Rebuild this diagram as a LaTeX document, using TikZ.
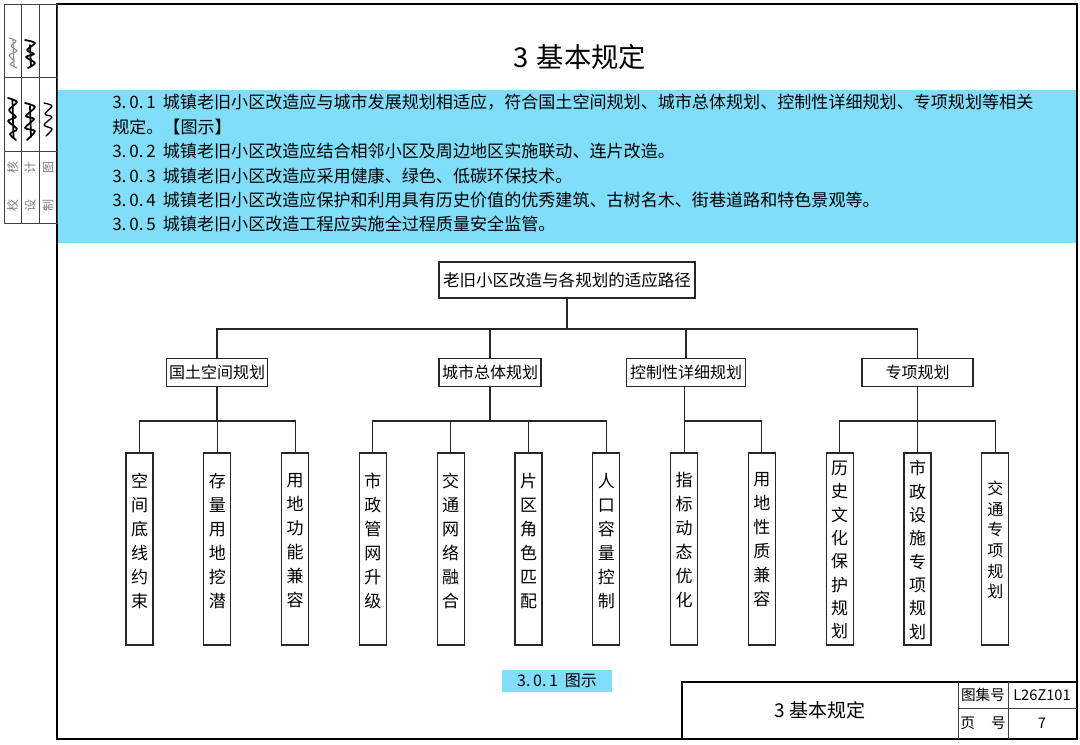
\documentclass[tikz,border=0pt]{standalone}
\usepackage{fontspec}
\setmainfont{Noto Sans CJK SC}
\definecolor{bandblue}{RGB}{128,222,250}
\newcommand\clno[1]{\makebox[38pt][l]{#1}}
\begin{document}
\begin{tikzpicture}[x=0.75pt,y=-0.75pt,
  frameline/.style={line width=1.8pt},
  thinline/.style={line width=0.6pt, draw=black!75},
  conn/.style={line width=0.85pt, draw=black!85},
  rootbox/.style={draw=black!85, line width=0.85pt, minimum width=192pt, minimum height=27pt, inner sep=0pt, font=\fontsize{12.4pt}{15pt}\selectfont},
  planbox/.style={draw=black!85, line width=0.85pt, minimum height=20.5pt, inner sep=0pt, font=\fontsize{12pt}{14pt}\selectfont},
  leafbox/.style={draw=black!85, line width=0.85pt, minimum width=20.25pt, minimum height=144pt, inner sep=0pt},
  leaftext/.style={align=center, inner sep=0pt, font=\fontsize{12.75pt}{18pt}\selectfont},
  bodytext/.style={anchor=west, inner sep=0pt, font=\fontsize{12.8pt}{16pt}\selectfont},
  striptext/.style={rotate=90, inner sep=0pt, text=black!50, font=\fontsize{9pt}{10pt}\selectfont},
  sig/.style={line width=1.3pt, line cap=round, line join=round},
]
\useasboundingbox (0,0) rectangle (1080,744);
\fill[white] (0,0) rectangle (1080,744);

% blue band
\fill[bandblue] (58,90) rectangle (1076,243);

% page frame
\draw[frameline] (57,4) rectangle (1077,739);

% left strip
\draw[thinline] (4,4) rectangle (57,223);
\draw[thinline] (21,4) -- (21,223);
\draw[thinline] (39,4) -- (39,223);
\draw[thinline] (4,77) -- (57,77);
\draw[thinline] (4,151) -- (57,151);
\node[striptext] (s1) at (12.5,186.5) {校\hspace{19pt}核};
\node[striptext] (s2) at (30,186.5) {设\hspace{19pt}计};
\node[striptext] (s3) at (48,186.5) {制\hspace{19pt}图};
% signatures
\draw[sig, line width=0.8pt, black!45] plot[smooth] coordinates {(9,38) (16,41) (11,46) (17,51) (9,55) (14,61) (10,64) (17,68)};
\draw[sig, line width=0.8pt, black!45] (13,40) -- (14,66);
\draw[sig] plot[smooth] coordinates {(25,40) (35,43) (27,50) (34,54) (26,57) (35,63) (28,68)};
\draw[sig] (30,45) -- (31,66);
\draw[sig] plot[smooth] coordinates {(8,98) (17,102) (9,110) (16,117) (8,121) (17,129) (10,134) (16,140)};
\draw[sig] (12.5,100) -- (13.5,138);
\draw[sig] plot[smooth] coordinates {(25,103) (35,107) (26,116) (34,119) (25,128) (35,131) (27,140)};
\draw[sig] (30,106) -- (31,137);
\draw[sig, line width=1pt] plot[smooth] coordinates {(44,103) (52,106) (45,114) (52,117) (44,125) (52,129) (46,136)};

% title
\node[inner sep=0pt, font=\fontsize{20.5pt}{24pt}\selectfont] (title) at (580,57) {3\hspace{6pt}基本规定};

% body text
\node[bodytext] (t1) at (112,102) {\clno{3.\,0.\,1}城镇老旧小区改造应与城市发展规划相适应，符合国土空间规划、城市总体规划、控制性详细规划、专项规划等相关};
\node[bodytext] (t2) at (112,127) {规定。【图示】};
\node[bodytext] (t3) at (112,151.5) {\clno{3.\,0.\,2}城镇老旧小区改造应结合相邻小区及周边地区实施联动、连片改造。};
\node[bodytext] (t4) at (112,176) {\clno{3.\,0.\,3}城镇老旧小区改造应采用健康、绿色、低碳环保技术。};
\node[bodytext] (t5) at (112,200) {\clno{3.\,0.\,4}城镇老旧小区改造应保护和利用具有历史价值的优秀建筑、古树名木、街巷道路和特色景观等。};
\node[bodytext] (t6) at (112,224) {\clno{3.\,0.\,5}城镇老旧小区改造工程应实施全过程质量安全监管。};

% tree
\node[rootbox] (root) at (567,280) {老旧小区改造与各规划的适应路径};
\node[planbox, minimum width=75.75pt] (p1) at (217,372.5) {国土空间规划};
\node[planbox, minimum width=76.5pt] (p2) at (490,372.5) {城市总体规划};
\node[planbox, minimum width=89.25pt] (p3) at (686,372.5) {控制性详细规划};
\node[planbox, minimum width=83.25pt] (p4) at (917.5,372.5) {专项规划};

\foreach \i/\x in {1/139.5,2/217.3,3/295.1,4/372.9,5/450.7,6/528.5,7/606.3,8/684.1,9/761.9,10/839.7,11/917.5,12/995.3}{
  \node[leafbox] (l\i) at (\x,549) {};
}

\node[leaftext] (lt1) at (139.5,541) {空\\间\\底\\线\\约\\束};
\node[leaftext] (lt2) at (217.3,541) {存\\量\\用\\地\\挖\\潜};
\node[leaftext] (lt3) at (295.1,541) {用\\地\\功\\能\\兼\\容};
\node[leaftext] (lt4) at (372.9,541) {市\\政\\管\\网\\升\\级};
\node[leaftext] (lt5) at (450.7,541) {交\\通\\网\\络\\融\\合};
\node[leaftext] (lt6) at (528.5,541) {片\\区\\角\\色\\匹\\配};
\node[leaftext] (lt7) at (606.3,541) {人\\口\\容\\量\\控\\制};
\node[leaftext] (lt8) at (684.1,540) {指\\标\\动\\态\\优\\化};
\node[leaftext] (lt9) at (761.9,540) {用\\地\\性\\质\\兼\\容};
\node[leaftext, font=\fontsize{12.75pt}{17.5pt}\selectfont] (lt10) at (839.7,550) {历\\史\\文\\化\\保\\护\\规\\划};
\node[leaftext, font=\fontsize{12.75pt}{17.5pt}\selectfont] (lt11) at (917.5,550) {市\\政\\设\\施\\专\\项\\规\\划};
\node[leaftext, font=\fontsize{12pt}{15.5pt}\selectfont] (lt12) at (995.3,540) {交\\通\\专\\项\\规\\划};

% connectors
\coordinate (b0) at (567,329);
\draw[conn] (root.south) -- (b0);
\draw[conn] (b0) -| (p1.north);
\draw[conn] (b0) -| (p2.north);
\draw[conn] (b0) -| (p3.north);
\draw[conn] (b0) -| (p4.north);

\coordinate (g1) at (217,421);
\coordinate (g2) at (490,421);
\coordinate (g3) at (684.1,421);
\coordinate (g4) at (917.5,421);
\draw[conn] (p1.south) -- (g1);
\draw[conn] (p2.south) -- (g2);
\draw[conn] (p3.south -| g3) -- (g3);
\draw[conn] (p4.south) -- (g4);
\foreach \g/\l in {g1/l1,g1/l2,g1/l3,g2/l4,g2/l5,g2/l6,g2/l7,g3/l8,g3/l9,g4/l10,g4/l11,g4/l12}{
  \draw[conn] (\g) -| (\l.north);
}

% figure label
\node[fill=bandblue, minimum width=82.5pt, minimum height=16.5pt, inner sep=0pt, font=\fontsize{12pt}{14pt}\selectfont] (figlab) at (557,681) {3.\,0.\,1\hspace{5pt}图示};

% title block
\draw[line width=1.2pt] (682,739) -- (682,682) -- (1077,682);
\draw[thinline] (958,682) -- (958,739);
\draw[thinline] (1008,682) -- (1008,739);
\draw[thinline] (958,708) -- (1077,708);
\node[inner sep=0pt, font=\fontsize{14.25pt}{16pt}\selectfont] (tbt) at (820,710) {3\hspace{4pt}基本规定};
\node[inner sep=0pt, font=\fontsize{11pt}{13pt}\selectfont] (tb1) at (983,695) {图集号};
\node[inner sep=0pt, font=\fontsize{11pt}{13pt}\selectfont] (tb2) at (1042,695) {L26Z101};
\node[inner sep=0pt, font=\fontsize{11pt}{13pt}\selectfont] (tb3) at (983,723) {页\hspace{12pt}号};
\node[inner sep=0pt, font=\fontsize{11pt}{13pt}\selectfont] (tb4) at (1042,723) {7};
\end{tikzpicture}
\end{document}
